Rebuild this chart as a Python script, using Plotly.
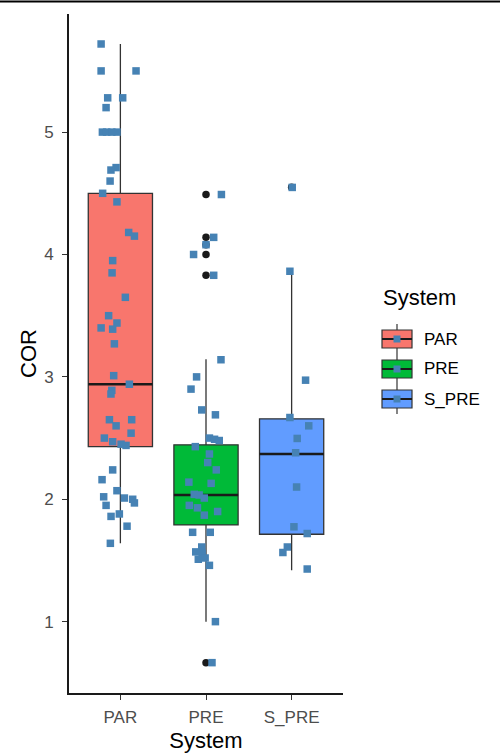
import plotly.graph_objects as go

# ---------------- data ----------------
systems = ["PAR", "PRE", "S_PRE"]
box_colors = ["#F8766D", "#00BA38", "#619CFF"]

# box statistics
q1 = [2.43, 1.79, 1.714]
median = [2.94, 2.035, 2.37]
q3 = [4.50, 2.445, 2.657]
lower_whisker = [1.64, 1.00, 1.42]
upper_whisker = [5.72, 3.145, 3.86]

# outliers (drawn at the box centre)
outlier_system = ["PRE", "PRE", "PRE", "PRE", "PRE", "PRE", "S_PRE"]
outlier_cor = [4.49, 4.14, 4.08, 4.00, 3.83, 0.665, 4.55]

# jittered observations: value and horizontal jitter offset
par_cor = [5.72, 5.50, 5.50, 5.28, 5.28, 5.20, 5.00, 5.00, 5.00, 5.00,
           4.71, 4.69, 4.60, 4.50, 4.43, 4.18, 4.15, 3.95, 3.85, 3.65,
           3.50, 3.44, 3.40, 3.39, 3.27, 3.01, 2.94, 2.89, 2.86, 2.65,
           2.65, 2.60, 2.54, 2.50, 2.47, 2.45, 2.44, 2.24, 2.16, 2.07,
           2.02, 2.01, 2.00, 1.95, 1.97, 1.86, 1.88, 1.78, 1.64]
par_jitter = [-0.225, -0.225, 0.183, -0.148, 0.027, -0.167, -0.21, -0.16, -0.10, -0.04,
              -0.05, -0.11, -0.12, -0.207, -0.04, 0.097, 0.164, -0.09, -0.097, 0.058,
              -0.137, -0.04, -0.225, -0.09, -0.07, -0.078, 0.105, -0.10, -0.11, -0.128,
              0.132, -0.05, 0.125, -0.187, -0.09, 0.008, 0.066, -0.09, -0.214, -0.04,
              -0.195, 0.047, 0.144, -0.167, 0.164, -0.109, -0.012, 0.078, -0.117]

pre_cor = [4.49, 4.14, 4.08, 4.00, 3.83, 3.14, 3.00, 2.90, 2.73, 2.69,
           2.50, 2.49, 2.48, 2.43, 2.37, 2.30, 2.24, 2.14, 2.13, 2.04,
           2.035, 2.01, 1.95, 1.93, 1.90, 1.87, 1.73, 1.73, 1.61, 1.57,
           1.56, 1.51, 1.52, 1.46, 1.00, 0.665]
pre_jitter = [0.18, 0.09, 0.0, -0.145, 0.09, 0.175, -0.11, -0.175, -0.05, 0.11,
              0.04, 0.10, 0.155, -0.125, 0.04, 0.02, 0.12, -0.20, 0.06, -0.137,
              -0.08, -0.02, -0.195, -0.10, 0.136, -0.02, -0.156, 0.05, -0.05, -0.12,
              -0.045, -0.09, -0.01, 0.04, 0.11, 0.07]

spre_cor = [4.548, 3.863, 2.973, 2.668, 2.60, 2.497, 2.38, 2.10, 1.775, 1.72, 1.61, 1.565, 1.43]
spre_jitter = [0.007, -0.02, 0.163, -0.02, 0.20, 0.065, 0.047, 0.058, 0.027, 0.182, -0.05, -0.102, 0.182]

point_values = [par_cor, pre_cor, spre_cor]
point_jitter = [par_jitter, pre_jitter, spre_jitter]

# ---------------- style ----------------
BOX_WIDTH = 0.75
POINT_COLOR = "#4682B4"
EDGE = "#333333"
FONT = "Liberation Sans, Arial, sans-serif"

PLOT_L, PLOT_R, PLOT_T, PLOT_B = 69, 343, 14, 693
W, H = 500, 753


def pxx(x):
    return (x - PLOT_L) / (PLOT_R - PLOT_L)


def pxy(y):
    return (PLOT_B - y) / (PLOT_B - PLOT_T)


fig = go.Figure()

for i, s in enumerate(systems):
    fig.add_trace(go.Box(
        x=[i], q1=[q1[i]], median=[median[i]], q3=[q3[i]],
        lowerfence=[lower_whisker[i]], upperfence=[upper_whisker[i]],
        width=BOX_WIDTH, whiskerwidth=0, boxpoints=False,
        fillcolor=box_colors[i], line=dict(color=EDGE, width=1.3),
        name=s, showlegend=False, hoverinfo="skip",
    ))

# thicker median lines (ggplot fatten)
mx, my = [], []
for i in range(len(systems)):
    mx += [i - BOX_WIDTH / 2, i + BOX_WIDTH / 2, None]
    my += [median[i], median[i], None]
fig.add_trace(go.Scatter(x=mx, y=my, mode="lines",
                         line=dict(color="#1a1a1a", width=2.6),
                         showlegend=False, hoverinfo="skip"))

# outliers
fig.add_trace(go.Scatter(
    x=[systems.index(s) for s in outlier_system], y=outlier_cor, mode="markers",
    marker=dict(symbol="circle", size=7.5, color="#1a1a1a"),
    showlegend=False, hoverinfo="skip"))

# jittered points
for i in range(len(systems)):
    fig.add_trace(go.Scatter(
        x=[i + j for j in point_jitter[i]], y=point_values[i], mode="markers",
        marker=dict(symbol="square", size=7.5, color=POINT_COLOR, line=dict(width=0)),
        showlegend=False, hoverinfo="skip"))

# ---------------- custom legend (ggplot style keys) ----------------
shapes = []
annotations = []
annotations.append(dict(text="System", xref="paper", yref="paper",
                        x=pxx(381), y=pxy(298), xanchor="left", yanchor="middle",
                        showarrow=False, font=dict(family=FONT, size=22, color="black")))
for i, s in enumerate(systems):
    cy = 339 + 30 * i
    kx0, kx1 = 382, 412
    kc = (kx0 + kx1) / 2
    shapes.append(dict(type="line", xref="paper", yref="paper",
                       x0=pxx(kc), x1=pxx(kc), y0=pxy(cy - 15), y1=pxy(cy + 15),
                       line=dict(color=EDGE, width=1.2)))
    shapes.append(dict(type="rect", xref="paper", yref="paper",
                       x0=pxx(kx0), x1=pxx(kx1), y0=pxy(cy - 9), y1=pxy(cy + 9),
                       fillcolor=box_colors[i], line=dict(color=EDGE, width=1.2)))
    shapes.append(dict(type="line", xref="paper", yref="paper",
                       x0=pxx(kx0), x1=pxx(kx1), y0=pxy(cy), y1=pxy(cy),
                       line=dict(color="#1a1a1a", width=2)))
    shapes.append(dict(type="rect", xref="paper", yref="paper",
                       x0=pxx(kc - 3.5), x1=pxx(kc + 3.5), y0=pxy(cy - 3.5), y1=pxy(cy + 3.5),
                       fillcolor=POINT_COLOR, line=dict(width=0)))
    annotations.append(dict(text=s, xref="paper", yref="paper",
                            x=pxx(422), y=pxy(cy), xanchor="left", yanchor="middle",
                            showarrow=False, font=dict(family=FONT, size=17, color="black")))

# top border line seen in the reference
shapes.append(dict(type="line", xref="paper", yref="paper",
                   x0=pxx(0), x1=pxx(W), y0=pxy(1.5), y1=pxy(1.5),
                   line=dict(color="black", width=2)))

fig.update_layout(
    width=W, height=H,
    margin=dict(l=PLOT_L, r=W - PLOT_R, t=PLOT_T, b=H - PLOT_B, pad=0),
    paper_bgcolor="white", plot_bgcolor="white",
    boxmode="overlay", showlegend=False,
    font=dict(family=FONT),
    shapes=shapes, annotations=annotations,
    xaxis=dict(
        range=[-0.6, 2.6], tickmode="array", tickvals=list(range(len(systems))),
        ticktext=systems, showgrid=False, zeroline=False, automargin=False,
        showline=True, linecolor="#1a1a1a", linewidth=1.6,
        ticks="outside", ticklen=5, tickwidth=1.2, tickcolor="#333333",
        ticklabelstandoff=3,
        tickfont=dict(family=FONT, size=17, color="#4d4d4d"),
        title=dict(text="System", font=dict(family=FONT, size=22, color="black"), standoff=9),
    ),
    yaxis=dict(
        range=[0.417, 5.965], tickmode="array", tickvals=[1, 2, 3, 4, 5],
        showgrid=False, zeroline=False, automargin=False,
        showline=True, linecolor="#1a1a1a", linewidth=1.6,
        ticks="outside", ticklen=5, tickwidth=1.2, tickcolor="#333333",
        ticklabelstandoff=5,
        tickfont=dict(family=FONT, size=17, color="#4d4d4d"),
        title=dict(text="COR", font=dict(family=FONT, size=22, color="black"), standoff=2),
    ),
)

fig.write_html("out.html")
